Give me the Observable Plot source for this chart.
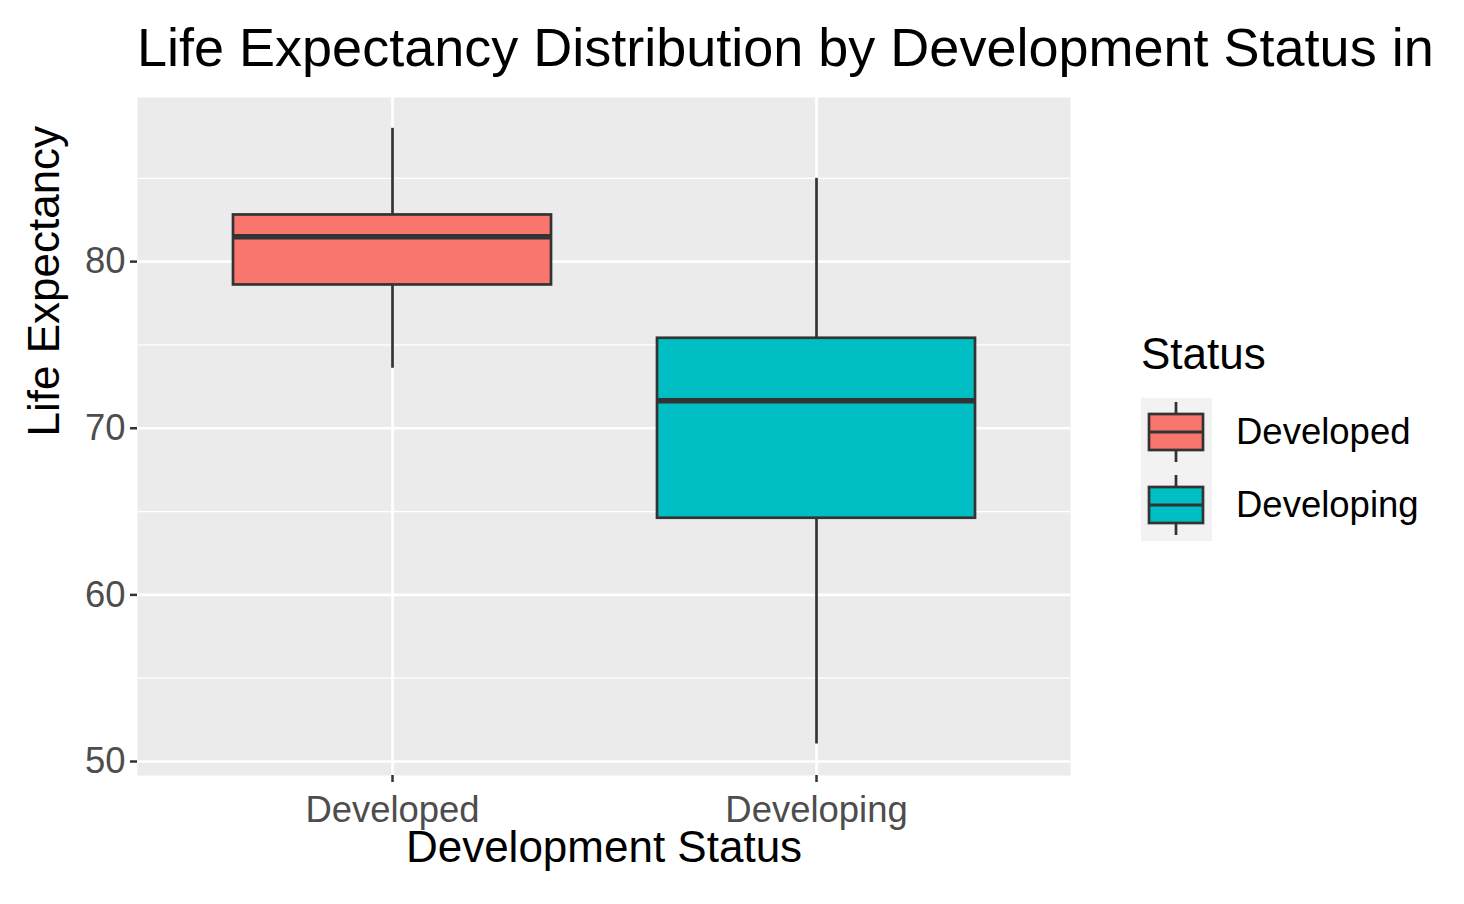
<!DOCTYPE html>
<html><head><meta charset="utf-8">
<script src="https://cdn.jsdelivr.net/npm/d3@7"></script>
<script src="https://cdn.jsdelivr.net/npm/@observablehq/plot@0.6"></script>
<style>
body{margin:0;background:#fff;font-family:"Liberation Sans",Arial,sans-serif;}
#wrap{position:relative;width:1464px;height:904px;overflow:hidden;}
#title{position:absolute;left:137px;top:16px;font-size:54px;white-space:nowrap;color:#000;}
#legend{position:absolute;left:1130px;top:325px;}
</style></head>
<body>
<div id="wrap">
<div id="chart"></div>
<div id="title">Life Expectancy Distribution by Development Status in</div>
<div id="legend"></div>
</div>
<script>
const statuses = ["Developed", "Developing"];
const whiskerLow = [73.6, 51.05];
const q1 = [78.6, 64.6];
const median = [81.5, 71.65];
const q3 = [82.8, 75.4];
const whiskerHigh = [88.0, 85.0];
const colors = ["#F8766D", "#00BFC4"];
const majorTicks = [50, 60, 70, 80];
const minorTicks = [55, 65, 75, 85];

const data = statuses.map((s, i) => ({status: s, lo: whiskerLow[i], q1: q1[i], med: median[i], q3: q3[i], hi: whiskerHigh[i]}));

const chart = Plot.plot({
  width: 1464, height: 904,
  marginLeft: 137, marginRight: 394, marginTop: 97, marginBottom: 129,
  style: {fontFamily: '"Liberation Sans", Arial, sans-serif', background: "#fff"},
  x: {domain: statuses, paddingInner: 0.25, paddingOuter: 0.225, label: null},
  y: {domain: [49.16, 89.85], label: null},
  color: {domain: statuses, range: colors},
  marks: [
    Plot.frame({fill: "#EBEBEB", stroke: null}),
    Plot.ruleY(minorTicks, {stroke: "#fff", strokeWidth: 1.3}),
    Plot.ruleY(majorTicks, {stroke: "#fff", strokeWidth: 2.7}),
    Plot.ruleX(statuses, {x: d => d, stroke: "#fff", strokeWidth: 2.7}),
    Plot.ruleX(data, {x: "status", y1: "lo", y2: "q1", stroke: "#333", strokeWidth: 2.7}),
    Plot.ruleX(data, {x: "status", y1: "q3", y2: "hi", stroke: "#333", strokeWidth: 2.7}),
    Plot.barY(data, {x: "status", y1: "q1", y2: "q3", fill: "status", stroke: "#333", strokeWidth: 2.7}),
    Plot.tickY(data, {x: "status", y: "med", stroke: "#333", strokeWidth: 5.5}),
    Plot.axisY(majorTicks, {tickSize: 7, tickPadding: 5, fontSize: 27 * 1.35, color: "#4D4D4D", stroke: "#333", strokeWidth: 2.5, label: null}),
    Plot.axisX({tickSize: 7, tickPadding: 14, fontSize: 27 * 1.35, color: "#4D4D4D", stroke: "#333", strokeWidth: 2.5, label: null}),
    Plot.text(["Development Status"], {frameAnchor: "bottom", dy: 86, fontSize: 44, fill: "#000"}),
    Plot.text(["Life Expectancy"], {frameAnchor: "left", dx: -93, rotate: -90, fontSize: 44, fill: "#000"})
  ]
});
document.getElementById("chart").append(chart);

// legend
const lg = d3.select("#legend").append("svg").attr("width", 330).attr("height", 230)
  .style("font-family", '"Liberation Sans", Arial, sans-serif');
lg.append("text").attr("x", 11).attr("y", 44).attr("font-size", 44).text("Status");
lg.append("rect").attr("x", 11).attr("y", 73).attr("width", 71).attr("height", 143).attr("fill", "#F2F2F2");
statuses.forEach((s, i) => {
  const cy = 107 + i * 73;
  const g = lg.append("g");
  g.append("line").attr("x1", 46).attr("x2", 46).attr("y1", cy - 30).attr("y2", cy + 30).attr("stroke", "#333").attr("stroke-width", 2.7);
  g.append("rect").attr("x", 19).attr("y", cy - 18).attr("width", 54).attr("height", 36).attr("fill", colors[i]).attr("stroke", "#333").attr("stroke-width", 2.7);
  g.append("line").attr("x1", 19).attr("x2", 73).attr("y1", cy).attr("y2", cy).attr("stroke", "#333").attr("stroke-width", 3);
  g.append("text").attr("x", 106).attr("y", cy + 12).attr("font-size", 36.5).text(s);
});
</script>
</body></html>
